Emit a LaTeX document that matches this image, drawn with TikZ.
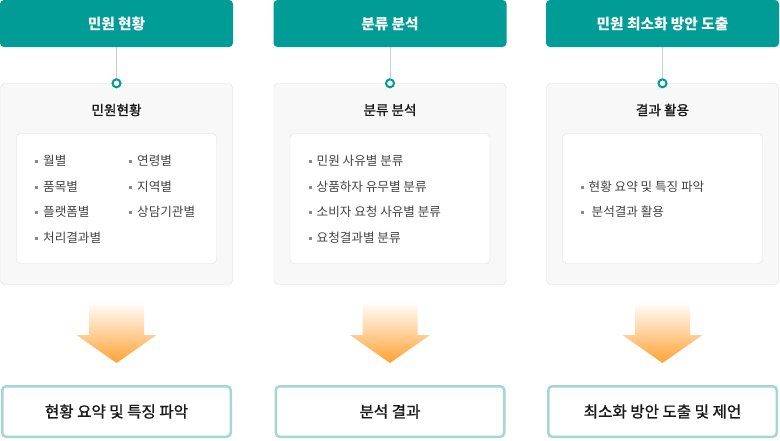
\documentclass[tikz,border=0pt]{standalone}
\usepackage{fontspec}
\setmainfont{Noto Sans CJK KR}
\newfontfamily\semifont{Noto Sans CJK KR}[FakeBold=1.2]
\usepackage{tikz}

\definecolor{headteal}{HTML}{009C95}
\definecolor{resultline}{HTML}{A3D7D3}
\definecolor{panelfill}{HTML}{F8F8F8}
\definecolor{panelline}{HTML}{DDDDDD}
\definecolor{stemgray}{HTML}{CCCCCC}
\definecolor{arroworange}{HTML}{FFA234}
\definecolor{itemgray}{HTML}{444444}
\definecolor{sqgray}{HTML}{888888}

\newcommand{\sqmark}{{\color{sqgray}\rule[3pt]{3pt}{3pt}}\hspace{5pt}}

\begin{document}
\begin{tikzpicture}[x=1pt,y=-1pt,
    headbox/.style={fill=headteal,rounded corners=4pt,minimum width=233pt,minimum height=47pt,
      text=white,font=\fontsize{14.7}{16}\selectfont\bfseries,inner sep=0pt},
    panelbox/.style={draw=panelline,fill=panelfill,rounded corners=4pt,minimum width=232pt,minimum height=201pt,inner sep=0pt},
    listbox/.style={draw=panelline,fill=white,rounded corners=4pt,minimum width=200pt,minimum height=130pt,inner sep=0pt},
    paneltitle/.style={font=\fontsize{13.6}{15}\selectfont\semifont,text=black!90,inner sep=0pt},
    item/.style={anchor=west,font=\fontsize{12.6}{14}\selectfont,text=itemgray,inner sep=0pt,
      text height=10pt,text depth=0.6pt},
    dot/.style={circle,draw=headteal,line width=2pt,fill=white,minimum size=8pt,inner sep=0pt},
    stem/.style={draw=stemgray,line width=0.8pt},
    resultbox/.style={draw=resultline,line width=2.5pt,fill=white,rounded corners=4pt,minimum width=228.5pt,
      minimum height=50.5pt,font=\fontsize{15.6}{17}\selectfont\semifont,text=black!90,inner sep=0pt},
    flowarrow/.style={top color=white,bottom color=arroworange}]
      \useasboundingbox (0,0) rectangle (780,440);

      % column 1
      \node[headbox] (head1) at (116.5,23.5) {민원 현황};
      \node[panelbox] (panel1) at (116.5,184) {};
      \node[dot] (dot1) at (panel1.north) {};
      \draw[stem] (head1.south) -- (dot1.north);
      \node[paneltitle] (title1) at (116.5,110) {민원현황};
      \node[listbox] (list1) at (116.5,198.5) {};
      \node[item] (m1) at (35,161) {\sqmark 월별};
      \node[item] (m2) at (35,187) {\sqmark 품목별};
      \node[item] (m3) at (35,212) {\sqmark 플랫폼별};
      \node[item] (m4) at (35,238) {\sqmark 처리결과별};
      \node[item] (m5) at (129,161) {\sqmark 연령별};
      \node[item] (m6) at (129,187) {\sqmark 지역별};
      \node[item] (m7) at (129,212) {\sqmark 상담기관별};
      \shade[flowarrow] (89,302) -- ++ (55,0) -- ++ (0,33) -- ++ (12.5,0) -- ++ (-40,28) -- ++ (-40,-28) -- ++ (12.5,0) -- cycle;
      \node[resultbox] (res1) at (116.5,411.5) {현황 요약 및 특징 파악};

      % column 2
      \node[headbox] (head2) at (390,23.5) {분류 분석};
      \node[panelbox] (panel2) at (390,184) {};
      \node[dot] (dot2) at (panel2.north) {};
      \draw[stem] (head2.south) -- (dot2.north);
      \node[paneltitle] (title2) at (390,110) {분류 분석};
      \node[listbox] (list2) at (390,198.5) {};
      \node[item] (c1) at (308.5,161) {\sqmark 민원 사유별 분류};
      \node[item] (c2) at (308.5,187) {\sqmark 상품하자 유무별 분류};
      \node[item] (c3) at (308.5,212) {\sqmark 소비자 요청 사유별 분류};
      \node[item] (c4) at (308.5,238) {\sqmark 요청결과별 분류};
      \shade[flowarrow] (362.5,302) -- ++ (55,0) -- ++ (0,33) -- ++ (12.5,0) -- ++ (-40,28) -- ++ (-40,-28) -- ++ (12.5,0) -- cycle;
      \node[resultbox] (res2) at (390,411.5) {분석 결과};

      % column 3
      \node[headbox] (head3) at (662.5,23.5) {민원 최소화 방안 도출};
      \node[panelbox] (panel3) at (662.5,184) {};
      \node[dot] (dot3) at (panel3.north) {};
      \draw[stem] (head3.south) -- (dot3.north);
      \node[paneltitle] (title3) at (662.5,110) {결과 활용};
      \node[listbox] (list3) at (662.5,198.5) {};
      \node[item] (u1) at (580.5,187) {\sqmark 현황 요약 및 특징 파악};
      \node[item] (u2) at (580.5,212) {\sqmark\hspace{3pt}분석결과 활용};
      \shade[flowarrow] (635,302) -- ++ (55,0) -- ++ (0,33) -- ++ (12.5,0) -- ++ (-40,28) -- ++ (-40,-28) -- ++ (12.5,0) -- cycle;
      \node[resultbox] (res3) at (662.5,411.5) {최소화 방안 도출 및 제언};
    \end{tikzpicture}
\end{document}
